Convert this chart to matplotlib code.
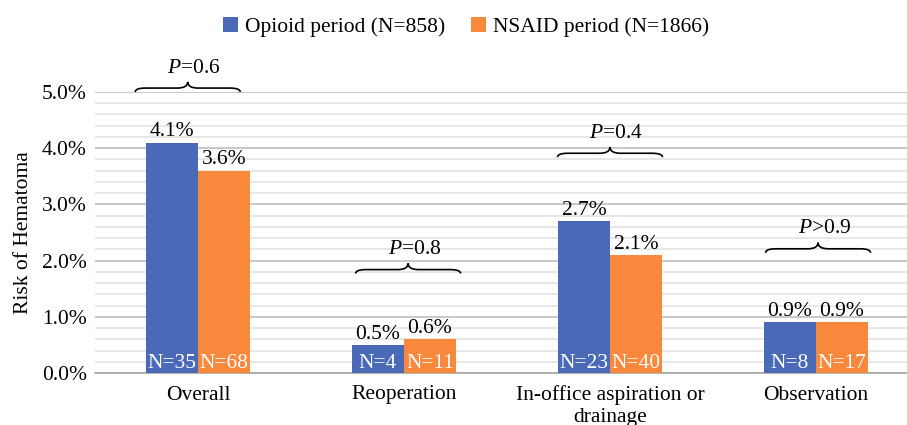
import matplotlib.pyplot as plt
import numpy as np
from matplotlib.path import Path
from matplotlib.patches import PathPatch

plt.rcParams['font.family'] = ['Liberation Serif', 'DejaVu Serif']
plt.rcParams['mathtext.fontset'] = 'custom'
plt.rcParams['mathtext.rm'] = 'Liberation Serif'
plt.rcParams['mathtext.it'] = 'Liberation Serif:italic'

# data
categories = ['Overall', 'Reoperation', 'In-office aspiration or\ndrainage', 'Observation']
opioid_risk = [4.1, 0.5, 2.7, 0.9]
nsaid_risk = [3.6, 0.6, 2.1, 0.9]
opioid_n = [35, 4, 23, 8]
nsaid_n = [68, 11, 40, 17]
p_labels = [r'$P$=0.6', r'$P$=0.8', r'$P$=0.4', r'$P$>0.9']
brace_levels = [5.07, 1.84, 3.91, 2.21]
brace_centers = [-0.05, 0.02, 0.0, 0.01]

blue = '#4A69B7'
orange = '#F7883C'
fs = 15.5

fig = plt.figure(figsize=(9.07, 4.25), dpi=100)
ax = fig.add_axes([95 / 907, 52 / 425, 824 / 907, 281 / 425])

x = np.arange(len(categories))
w = 0.252
b1 = ax.bar(x - w / 2, opioid_risk, width=w, color=blue, label='Opioid period (N=858)', zorder=3)
b2 = ax.bar(x + w / 2, nsaid_risk, width=w, color=orange, label='NSAID period (N=1866)', zorder=3)

for bars, vals, ns in [(b1, opioid_risk, opioid_n), (b2, nsaid_risk, nsaid_n)]:
    for r, v, n in zip(bars, vals, ns):
        cx = r.get_x() + r.get_width() / 2
        ax.annotate(f'{v:.1f}%', (cx, v), xytext=(0, 1), textcoords='offset points',
                    ha='center', va='bottom', fontsize=fs, zorder=4)
        ax.annotate(f'N={n}', (cx, 0), xytext=(0, 0), textcoords='offset points',
                    ha='center', va='bottom', fontsize=fs, color='white', zorder=4)


def brace(xc, y, half=0.255, r=0.05, dn=0.07, up=0.11):
    x0, x1 = xc - half, xc + half
    verts = [(x0, y - dn), (x0, y), (x0 + r, y),
             (xc - r, y), (xc, y), (xc, y + up),
             (xc, y), (xc + r, y),
             (x1 - r, y), (x1, y), (x1, y - dn)]
    codes = [Path.MOVETO, Path.CURVE3, Path.CURVE3,
             Path.LINETO, Path.CURVE3, Path.CURVE3,
             Path.CURVE3, Path.CURVE3,
             Path.LINETO, Path.CURVE3, Path.CURVE3]
    ax.add_patch(PathPatch(Path(verts, codes), fill=False, lw=1.2, color='black',
                           clip_on=False, zorder=5))
    return y + up


for i, (lab, lvl, off) in enumerate(zip(p_labels, brace_levels, brace_centers)):
    top = brace(i + off, lvl)
    ax.annotate(lab, (i + off + 0.03, top), xytext=(0, 3), textcoords='offset points',
                ha='center', va='bottom', fontsize=fs, annotation_clip=False)

ax.set_xlim(-0.5, 3.5)
ax.set_ylim(0, 5)
ax.set_yticks(np.arange(0, 5.01, 1))
ax.set_yticklabels([f'{t:.1f}%' for t in np.arange(0, 5.01, 1)], fontsize=fs)
ax.set_yticks(np.arange(0, 5.01, 0.2), minor=True)
ax.set_xticks(x)
ax.set_xticklabels(categories, fontsize=fs, linespacing=1.15)
ax.tick_params(axis='both', length=0, which='both')
ax.tick_params(axis='x', pad=9)
ax.tick_params(axis='y', pad=6)
ax.grid(axis='y', which='major', color='#BFBFBF', lw=1.2, zorder=0)
ax.grid(axis='y', which='minor', color='#E3E3E3', lw=1.2, zorder=0)
for s in ['top', 'right', 'left']:
    ax.spines[s].set_visible(False)
ax.spines['bottom'].set_color('#A6A6A6')
ax.spines['bottom'].set_linewidth(1.2)
ax.set_ylabel('Risk of Hematoma', fontsize=fs, labelpad=6)

fig.legend(loc='upper center', bbox_to_anchor=(466 / 907, 1.005), ncol=2, frameon=False,
           fontsize=fs, handlelength=0.7, handleheight=0.7, handletextpad=0.3,
           columnspacing=1.2)

fig.savefig('out.png', dpi=100)
